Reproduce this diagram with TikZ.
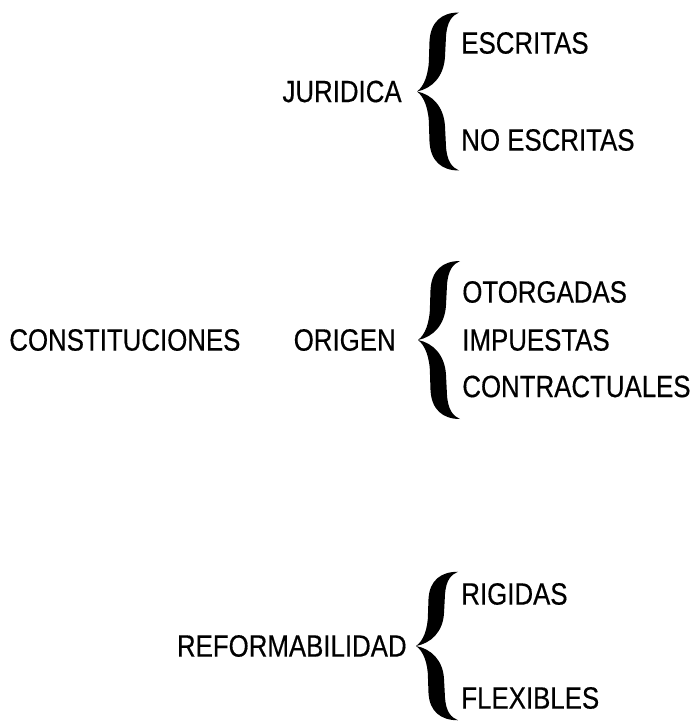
\documentclass[tikz,border=0pt]{standalone}
\usepackage{fontspec}
\setmainfont{Liberation Sans}[FakeStretch=0.84,FakeBold=0.4]
\usetikzlibrary{positioning,calc}

\tikzset{
  %llave: punta en (0,0)
  llave/.pic={
    \foreach \s in {1,-1}
      \fill[yscale=\s] (0,0) .. controls (0.14,0.1) and (0.24,0.35) .. (0.24,0.7)
        -- (0.25,1.0) .. controls (0.27,1.4) and (0.5,1.58) .. (0.84,1.58)
        .. controls (0.7,1.52) and (0.6,1.4) .. (0.58,1.1)
        -- (0.56,0.7) .. controls (0.54,0.3) and (0.3,0.06) .. (0,0) -- cycle;
  },
  txt/.style={inner sep=0pt,font=\fontsize{17.5}{20}\selectfont},
  hoja/.style={txt,anchor=west}
}

\begin{document}
\begin{tikzpicture}[scale=1]
  \useasboundingbox (0,0) rectangle (13.92,-14.46);
  %JURIDICA
  \coordinate (T1) at (8.34,-1.83);
  \node[txt,left=0.3cm of T1] (jur) {JURIDICA};
  \pic at (T1) {llave};
  \node[hoja] (escr) at ($(T1)+(0.88,0.97)$) {ESCRITAS};
  \node[hoja] (noescr) at ($(T1)+(0.88,-0.97)$) {NO ESCRITAS};
  %ORIGEN
  \coordinate (T2) at (8.36,-6.8);
  \node[txt,anchor=west] (const) at (0.18,-6.8) {CONSTITUCIONES};
  \node[txt,left=0.44cm of T2] (orig) {ORIGEN};
  \pic at (T2) {llave};
  \node[hoja] (otorg) at ($(T2)+(0.88,0.96)$) {OTORGADAS};
  \node[hoja] (imp) at ($(T2)+(0.88,0)$) {IMPUESTAS};
  \node[hoja] (contr) at ($(T2)+(0.88,-0.93)$) {CONTRACTUALES};
  %REFORMABILIDAD
  \coordinate (T3) at (8.32,-12.92);
  \node[txt,left=0.18cm of T3] (refor) {REFORMABILIDAD};
  \pic[yscale=0.94] at (T3) {llave};
  \node[hoja] (rig) at ($(T3)+(0.9,1.04)$) {RIGIDAS};
  \node[hoja] (flex) at ($(T3)+(0.9,-1.04)$) {FLEXIBLES};
\end{tikzpicture}
\end{document}
